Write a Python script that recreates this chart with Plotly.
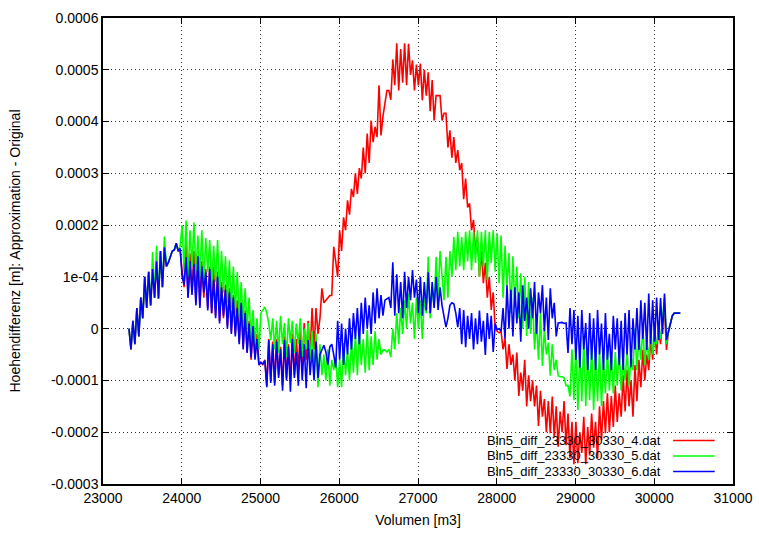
import plotly.graph_objects as go

# Sample positions (volume in m3)
volumen = list(range(23330, 30331, 25))

# Height differences in micrometres (1e-6 m)
diff_4_um = [
    0, -40, 15, -30, 40, -15, 60, 20, 100, 40, 110, 45, 115, 60, 130, 58, 150, 80, 155, 120, 128, 140, 150, 152, 165, 150, 150,
    110, 80, 168, 60, 145, 70, 150, 50, 140, 45, 130, 60, 115, 40, 120, 30, 119, 25, 110, 15, 90, 20, 85, 5, 78, -5, 65, -10, 55, -25, 50, -35, 35, -45, 15, -60, -5, -55, -10, -70,
    -65, -70, -60, -110, -20, -100, -25, -105, -20, -90, -35, -110, -15, -95, -30, -100, -10, -90, -20, -80, 0, -70, 11, -60, 15, -50, 40, -40, 40, -10, 20, 78, 50, 55, 61, 64, 64, 158, 130, 100,
    190, 150, 215, 190, 248, 220, 270, 254, 300, 260, 310, 290, 350, 300, 377, 320, 402, 360, 390, 370, 470, 373, 410, 440, 460, 460, 442, 520, 470, 551, 460, 540, 475, 551, 470, 550, 490, 518, 460, 510,
    470, 512, 441, 500, 450, 495, 420, 480, 402, 450, 450, 450, 402, 416, 416, 350, 383, 330, 370, 320, 345, 306, 320, 250, 290, 234, 242, 190, 210, 150, 177, 100, 150, 88, 127, 60, 100, 36, 70, 0,
    -5, -8, -5, -40, -20, -78, -30, -70, -50, -100, -46, -130, -85, -120, -60, -150, -90, -140, -100, -150, -110, -188, -120, -170, -136, -200, -140, -202, -131, -210, -150, -228, -160, -200, -140, -225, -164, -250, -180, -262,
    -180, -260, -200, -240, -170, -262, -190, -245, -164, -230, -180, -250, -150, -215, -140, -202, -125, -200, -130, -190, -110, -180, -125, -170, -90, -160, -80, -150, -100, -170, -70, -140, -60, -113, -41, -100, -50, -80, -20, -60,
    3, -50, 0, -30, 20, 40, -41, -5, 10, 25, 30, 30, 30, 30,
]

diff_5_um = [
    0, -40, 15, -30, 40, -15, 60, 20, 100, 40, 110, 45, 148, 60, 160, 58, 150, 80, 178, 120, 128, 140, 150, 152, 165, 150, 160,
    200, 110, 209, 100, 190, 120, 205, 110, 180, 100, 190, 90, 175, 110, 171, 80, 160, 90, 171, 60, 150, 70, 140, 50, 132, 40, 120, 30, 110, 20, 90, 10, 78, 0, 60, -20, 36, -30, 20, -40,
    30, 36, 42, 30, 10, -22, 20, -40, 15, -47, 25, -30, 11, -55, 20, -28, 15, -47, 10, -30, 20, -55, 0, -40, 11, -60, -5, -80, -10, -113, -30, -90, -50, -100, -40, -110, -60, -80, -55, -113,
    -60, -113, -28, -90, -40, -100, -20, -85, -10, -90, -5, -70, -20, -85, -2, -80, -15, -70, -5, -60, -20, -50, -41, -41, -45, -40, -55, 0, -40, 30, -30, 40, -10, 55, 0, 68, 10, 50, -20, 60,
    0, 55, -20, 61, 30, 139, 20, 80, 40, 139, 60, 150, 100, 55, 139, 60, 150, 100, 177, 113, 187, 120, 177, 113, 187, 130, 190, 113, 187, 127, 190, 100, 187, 120, 190, 94, 187, 127, 190, 110,
    184, 88, 180, 60, 160, 82, 146, 31, 140, 40, 120, 20, 107, 0, 100, -14, 90, -10, 60, -40, 18, -60, 30, -72, 0, -50, -27, -91, -30, -80, -60, -91, -93, -93, -95, -110, -110, -131, -40, -138,
    -30, -157, -41, -140, -15, -150, -41, -138, -30, -157, -50, -140, -41, -150, -60, -125, -41, -120, -50, -125, -45, -110, -41, -120, -60, -100, -41, -110, -50, -80, 0, -80, -10, -60, 3, -70, -20, -60, 0, -50,
    -20, -30, 0, -20, 20, 60, -30, -5, 10, 25, 30, 30, 30, 30,
]

diff_6_um = [
    0, -40, 15, -30, 40, -15, 60, 20, 100, 40, 110, 45, 115, 60, 130, 58, 150, 80, 157, 120, 128, 140, 150, 152, 165, 150, 155,
    100, 85, 138, 60, 130, 65, 125, 45, 140, 40, 120, 70, 110, 35, 115, 30, 95, 20, 100, 10, 80, 25, 75, 0, 70, -10, 60, -15, 40, -30, 50, -40, 30, -47, 10, -55, 5, -60, -20, -70,
    -65, -68, -62, -113, -22, -105, -30, -110, -25, -95, -40, -120, -22, -100, -35, -122, -20, -95, -45, -110, -22, -100, -30, -115, -22, -90, -40, -100, -25, -95, -50, -40, -32, -45, -70, -35, -30, -50, -75, 15,
    -60, 10, -70, 0, -50, 20, -40, 30, -20, 40, -30, 50, -10, 60, 0, 45, -10, 70, 10, 78, 20, 65, 25, 55, 58, 60, 40, 128, 25, 105, 30, 90, 20, 110, 40, 100, 55, 113, 60, 95,
    30, 100, 25, 90, 35, 109, 30, 90, 40, 100, 36, 80, 45, 20, 3, 20, 45, 50, 48, 30, 3, 40, -30, 36, -36, 25, -20, 30, -40, 20, -30, 35, -25, 15, -51, 30, -20, 25, -45, 10,
    -2, 0, -5, 40, -20, 84, 0, 75, -15, 80, 10, 70, -25, 84, 15, 60, 0, 78, 20, 90, -10, 70, 30, 84, -5, 60, -22, 78, 20, 50, -15, 11, 11, 12, 10, 11, -47, 40, -30, 36,
    -60, 25, -75, 36, -40, 11, -80, 30, -60, 20, -80, 36, -50, 10, -80, 30, -60, -10, -80, 25, -40, 20, -70, 15, -80, 30, -50, 36, -75, 20, -40, 40, -41, 55, -20, 50, -41, 68, -30, 55,
    -25, 60, -22, 59, -10, 68, -22, -5, 10, 25, 30, 30, 30, 30,
]

series_names = [
    "Bln5_diff_23330_30330_4.dat",
    "Bln5_diff_23330_30330_5.dat",
    "Bln5_diff_23330_30330_6.dat",
]
series_colors = ["#ff0000", "#00ff00", "#0000ff"]

x_ticks = [23000, 24000, 25000, 26000, 27000, 28000, 29000, 30000, 31000]
y_ticks = [-0.0003, -0.0002, -0.0001, 0, 0.0001, 0.0002, 0.0003, 0.0004, 0.0005, 0.0006]
y_tick_text = ["-0.0003", "-0.0002", "-0.0001", "0", "1e-04", "0.0002", "0.0003", "0.0004", "0.0005", "0.0006"]

FONT = "Liberation Sans, Arial, Helvetica, sans-serif"

fig = go.Figure()
for name, color, vals in zip(series_names, series_colors, [diff_4_um, diff_5_um, diff_6_um]):
    fig.add_trace(go.Scatter(
        x=volumen,
        y=[v * 1e-6 for v in vals],
        mode="lines",
        name=name,
        line=dict(color=color, width=1.6),
        showlegend=False,
    ))

# Key: right-aligned labels with line samples to their right
key_rows = [0.0934, 0.0601, 0.0268]
for name, color, yk in zip(series_names, series_colors, key_rows):
    fig.add_annotation(
        x=0.889, y=yk, xref="paper", yref="paper",
        text=name, showarrow=False, xanchor="right", yanchor="middle",
        font=dict(family=FONT, size=13, color="#000000"),
    )
    fig.add_shape(
        type="line", xref="paper", yref="paper",
        x0=0.905, x1=0.971, y0=yk, y1=yk,
        line=dict(color=color, width=1.6),
    )

axis_common = dict(
    showline=True, linecolor="#000000", linewidth=1.5, mirror="ticks",
    ticks="inside", ticklen=6, tickcolor="#000000", tickwidth=1,
    showgrid=True, gridcolor="rgba(0,0,0,0.8)", gridwidth=1, griddash="1px,3px",
    zeroline=False, tickfont=dict(family=FONT, size=14, color="#000000"),
    automargin=False,
)

fig.update_layout(
    width=759, height=534,
    margin=dict(l=103, r=26, t=18, b=50),
    paper_bgcolor="#ffffff", plot_bgcolor="#ffffff",
    font=dict(family=FONT, size=14, color="#000000"),
    showlegend=False,
    xaxis=dict(
        range=[23000, 31000], tickvals=x_ticks,
        ticktext=[str(t) for t in x_ticks],
        title=dict(text="Volumen [m3]", font=dict(family=FONT, size=14), standoff=11),
        **axis_common,
    ),
    yaxis=dict(
        range=[-0.0003, 0.0006], tickvals=y_ticks, ticktext=y_tick_text,
        title=dict(text="Hoehendifferenz [m]: Approximation - Original",
                   font=dict(family=FONT, size=14), standoff=27),
        **axis_common,
    ),
)

fig.write_html("out.html")
